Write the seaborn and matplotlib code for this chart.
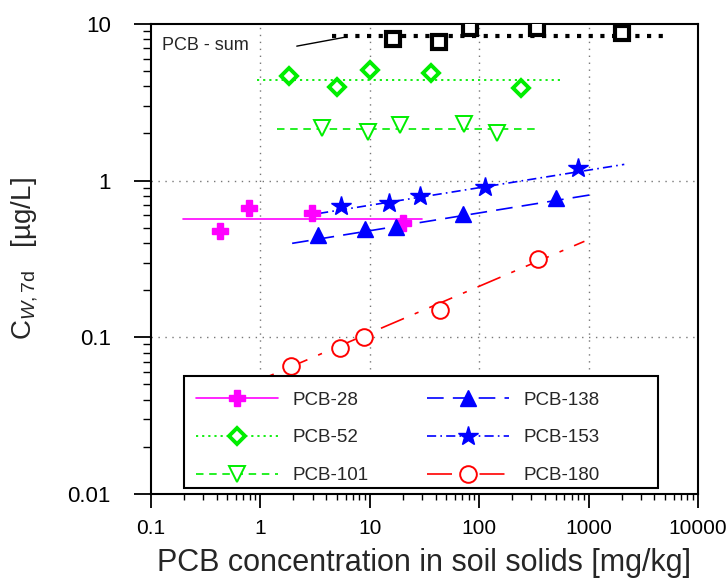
import numpy as np
import pandas as pd
import matplotlib
matplotlib.use("Agg")
import matplotlib.pyplot as plt
from matplotlib.lines import Line2D
from matplotlib.patches import Rectangle
from matplotlib.ticker import NullFormatter, LogLocator
import seaborn as sns

# --- data (x: mg/kg, y: ug/L) ---
sum_x = [16.2, 42.7, 83, 337, 2005]
sum_y = [8.0, 7.7, 9.4, 9.4, 8.8]
p28_x = [0.43, 0.787, 2.95, 20.2]
p28_y = [0.477, 0.665, 0.624, 0.538]
p52_x = [1.84, 5.0, 9.96, 36.5, 240]
p52_y = [4.65, 3.97, 5.08, 4.84, 3.92]
p101_x = [3.65, 9.73, 19.0, 72.8, 146]
p101_y = [2.16, 2.05, 2.26, 2.29, 2.02]
p138_x = [3.37, 9.08, 17.3, 71.8, 508]
p138_y = [0.45, 0.49, 0.508, 0.612, 0.778]
p153_x = [5.4, 15.0, 28.8, 114, 793]
p153_y = [0.689, 0.716, 0.797, 0.906, 1.2]
p180_x = [1.9, 5.35, 8.85, 43.7, 347]
p180_y = [0.0657, 0.0855, 0.1, 0.149, 0.316]

# fitted lines (end points)
fit_sum_x, fit_sum_y = [4.5, 5150], [8.35, 8.35]
fit28_x, fit28_y = [0.196, 29.9], [0.566, 0.566]
fit52_x, fit52_y = [0.94, 560], [4.37, 4.37]
fit101_x, fit101_y = [1.43, 343], [2.15, 2.15]
fit138_x, fit138_y = [1.95, 1114], [0.398, 0.818]
fit153_x, fit153_y = [3.44, 2120], [0.618, 1.27]
fit180_x, fit180_y = [0.6, 916], [0.046, 0.41]
leader_x, leader_y = [2.15, 5.76], [7.22, 8.2]

x_ticks = [0.1, 1, 10, 100, 1000, 10000]
x_labels = ["0.1", "1", "10", "100", "1000", "10000"]
y_ticks = [0.01, 0.1, 1, 10]
y_labels = ["0.01", "0.1", "1", "10"]

sns.set_theme(style="ticks")
plt.rcParams['font.family'] = ['Liberation Sans', 'DejaVu Sans']
plt.rcParams['mathtext.fontset'] = 'custom'
plt.rcParams['mathtext.rm'] = 'Liberation Sans'
plt.rcParams['mathtext.it'] = 'Liberation Sans:italic'

fig = plt.figure(figsize=(7.26, 5.82), dpi=100)
ax = fig.add_axes([0.208, 0.1512, 0.7534, 0.8076])
ax.set_xscale('log')
ax.set_yscale('log')

GREEN = '#00ee00'
series = [
    # label, xs, ys, fx, fy, color, linestyle, lw, marker, ms, filled, mew
    ("PCB-28", p28_x, p28_y, fit28_x, fit28_y, '#ff00ff', '-', 1.2, 'P', 11, True, 1),
    ("PCB-52", p52_x, p52_y, fit52_x, fit52_y, GREEN, (0, (1.2, 2.2)), 1.3, 'D', 8, False, 2.8),
    ("PCB-101", p101_x, p101_y, fit101_x, fit101_y, GREEN, (0, (4.5, 3.4)), 1.2, 'v', 12, False, 1.4),
    ("PCB-138", p138_x, p138_y, fit138_x, fit138_y, '#0000ff', (0, (10, 5.5)), 1.2, '^', 12, True, 1),
    ("PCB-153", p153_x, p153_y, fit153_x, fit153_y, '#0000ff', (0, (5.5, 2.5, 1, 2.5)), 1.2, '*', 15, True, 1),
    ("PCB-180", p180_x, p180_y, fit180_x, fit180_y, '#ff0000', (0, (15, 7, 2.5, 7)), 1.2, 'o', 12, False, 1.4),
]

handles = []
for lab, xs, ys, fx, fy, col, ls, lw, mk, ms, filled, mew in series:
    sns.lineplot(x=fx, y=fy, ax=ax, color=col, linestyle=ls, linewidth=lw,
                 estimator=None, sort=False, zorder=2)
    fc = col if filled else 'white'
    ax.plot(xs, ys, linestyle='none', marker=mk, markersize=ms,
            markerfacecolor=fc, markeredgecolor=col, markeredgewidth=mew, zorder=3)
    handles.append(Line2D([], [], color=col, linestyle=ls, linewidth=lw, marker=mk,
                          markersize=ms, markerfacecolor=fc, markeredgecolor=col,
                          markeredgewidth=mew, label=lab))

# PCB sum
sns.lineplot(x=fit_sum_x, y=fit_sum_y, ax=ax, color='black', linestyle=(0, (1.0, 1.8)),
             linewidth=3.0, estimator=None, sort=False, zorder=2)
ax.plot(sum_x, sum_y, linestyle='none', marker='s', markersize=10.5,
        markerfacecolor='white', markeredgecolor='black', markeredgewidth=3, zorder=3)
sns.lineplot(x=leader_x, y=leader_y, ax=ax, color='black', linewidth=1.0,
             estimator=None, sort=False, zorder=2)
ax.text(0.126, 7.33, "PCB - sum", fontsize=13, va='center', ha='left')

ax.set_xlim(0.1, 10000)
ax.set_ylim(0.01, 10)
ax.set_xticks(x_ticks)
ax.set_xticklabels(x_labels)
ax.set_yticks(y_ticks)
ax.set_yticklabels(y_labels)
ax.xaxis.set_minor_locator(LogLocator(base=10, subs=np.arange(2, 10)))
ax.yaxis.set_minor_locator(LogLocator(base=10, subs=np.arange(2, 10)))
ax.xaxis.set_minor_formatter(NullFormatter())
ax.yaxis.set_minor_formatter(NullFormatter())

ax.tick_params(axis='x', which='major', direction='out', length=10, width=1.3,
               labelsize=15, pad=8, color='black', labelcolor='black')
ax.tick_params(axis='x', which='minor', direction='out', length=4.5, width=1.0, color='black')
ax.tick_params(axis='y', which='major', direction='out', length=12, width=1.3,
               labelsize=16, pad=17, color='black', labelcolor='black')
ax.tick_params(axis='y', which='minor', direction='out', length=6, width=1.0, color='black')

for s in ax.spines.values():
    s.set_color('black')
    s.set_linewidth(1.5)

for gx in [1, 10, 100, 1000]:
    ax.axvline(gx, color='#777777', linestyle=(0, (1, 4)), linewidth=1.0, zorder=1)
for gy in [0.1, 1]:
    ax.axhline(gy, color='#777777', linestyle=(0, (1, 4)), linewidth=1.0, zorder=1)

ax.set_xlabel("PCB concentration in soil solids [mg/kg]", fontsize=22, labelpad=7)
ax.set_ylabel(r"C$_{\mathit{W,7}\mathrm{d}}$   [µg/L]", fontsize=20, labelpad=20)

# legend frame drawn as its own box, entries placed inside it
ax.add_patch(Rectangle((0.060, 0.0128), 0.867, 0.238, transform=ax.transAxes,
                       facecolor='white', edgecolor='black', linewidth=1.5, zorder=4))
leg = ax.legend(handles=handles, ncol=2, loc='upper left',
                bbox_to_anchor=(0.082, 0.218), fontsize=13.5, frameon=False,
                handlelength=4.4, handletextpad=0.75, labelspacing=1.1,
                borderpad=0, borderaxespad=0, columnspacing=3.1)
leg.set_zorder(5)

fig.savefig("out.png", dpi=100)
